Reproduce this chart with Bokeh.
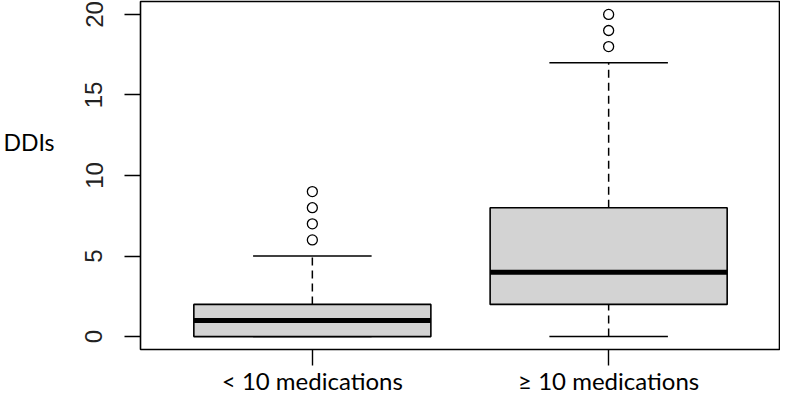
from bokeh.plotting import figure
from bokeh.models import Range1d, FixedTicker, ColumnDataSource
from bokeh.embed import file_html
from bokeh.resources import INLINE

categories = ["< 10 medications", "≥ 10 medications"]
whisker_low = [0, 0]
q1 = [0, 2]
median = [1, 4]
q3 = [2, 8]
whisker_high = [5, 17]
outliers = [[6, 7, 8, 9], [18, 19, 20]]
y_ticks = [0, 5, 10, 15, 20]
y_label = "DDIs"

pos = [i + 1 for i in range(len(categories))]
box_w = 0.8
staple_w = 0.4

p = figure(width=780, height=397, output_backend="svg", toolbar_location=None,
           x_range=Range1d(0.42, 2.58), y_range=Range1d(-0.8, 20.8),
           min_border_left=137, min_border_right=0, min_border_top=1, min_border_bottom=46)
p.grid.visible = False
p.outline_line_color = "black"
p.outline_line_width = 1.6
p.background_fill_color = "white"
p.border_fill_color = "white"

# axes
p.yaxis.ticker = FixedTicker(ticks=y_ticks)
p.yaxis.major_label_orientation = "vertical"
p.yaxis.major_label_text_font = "Liberation Sans"
p.yaxis.major_label_text_font_size = "24px"
p.yaxis.major_label_text_color = "#222222"
p.yaxis.major_label_standoff = 22
p.yaxis.axis_label = y_label + "\n\n"
p.yaxis.axis_label_orientation = "horizontal"
p.yaxis.axis_label_text_font = "Lato"
p.yaxis.axis_label_text_font_style = "normal"
p.yaxis.axis_label_text_font_size = "23px"
p.yaxis.axis_label_text_color = "black"
p.yaxis.axis_label_standoff = 28
p.xaxis.ticker = FixedTicker(ticks=pos)
p.xaxis.major_label_overrides = {pos[i]: categories[i] for i in range(len(categories))}
p.xaxis.major_label_text_font = "Lato"
p.xaxis.major_label_text_font_size = "24px"
p.xaxis.major_label_text_color = "black"
p.xaxis.major_label_standoff = 0
for ax in (p.xaxis[0], p.yaxis[0]):
    ax.axis_line_color = None
    ax.major_tick_out = 16
    ax.major_tick_in = 0
    ax.major_tick_line_width = 1.4
    ax.minor_tick_line_color = None

src = ColumnDataSource(dict(
    x=pos, lo=whisker_low, q1=q1, med=median, q3=q3, hi=whisker_high,
    bl=[x - box_w / 2 for x in pos], br=[x + box_w / 2 for x in pos],
    sl=[x - staple_w / 2 for x in pos], sr=[x + staple_w / 2 for x in pos]))

# whiskers (dashed)
p.segment(x0="x", y0="q3", x1="x", y1="hi", source=src, line_color="black",
          line_width=1.5, line_dash="8 5")
p.segment(x0="x", y0="lo", x1="x", y1="q1", source=src, line_color="black",
          line_width=1.5, line_dash="8 5")
# staples
p.segment(x0="sl", y0="hi", x1="sr", y1="hi", source=src, line_color="black", line_width=1.5)
p.segment(x0="sl", y0="lo", x1="sr", y1="lo", source=src, line_color="black", line_width=1.5)
# boxes
p.quad(left="bl", right="br", bottom="q1", top="q3", source=src,
       fill_color="#D3D3D3", line_color="black", line_width=1.6)
# medians
p.segment(x0="bl", y0="med", x1="br", y1="med", source=src, line_color="black",
          line_width=5, line_cap="butt")

# outliers
ox, oy = [], []
for i, vals in enumerate(outliers):
    for v in vals:
        ox.append(pos[i])
        oy.append(v)
p.scatter(ox, oy, marker="circle", size=10, fill_color=None, line_color="black", line_width=1.3)

open("out.html", "w").write(file_html(p, INLINE))
